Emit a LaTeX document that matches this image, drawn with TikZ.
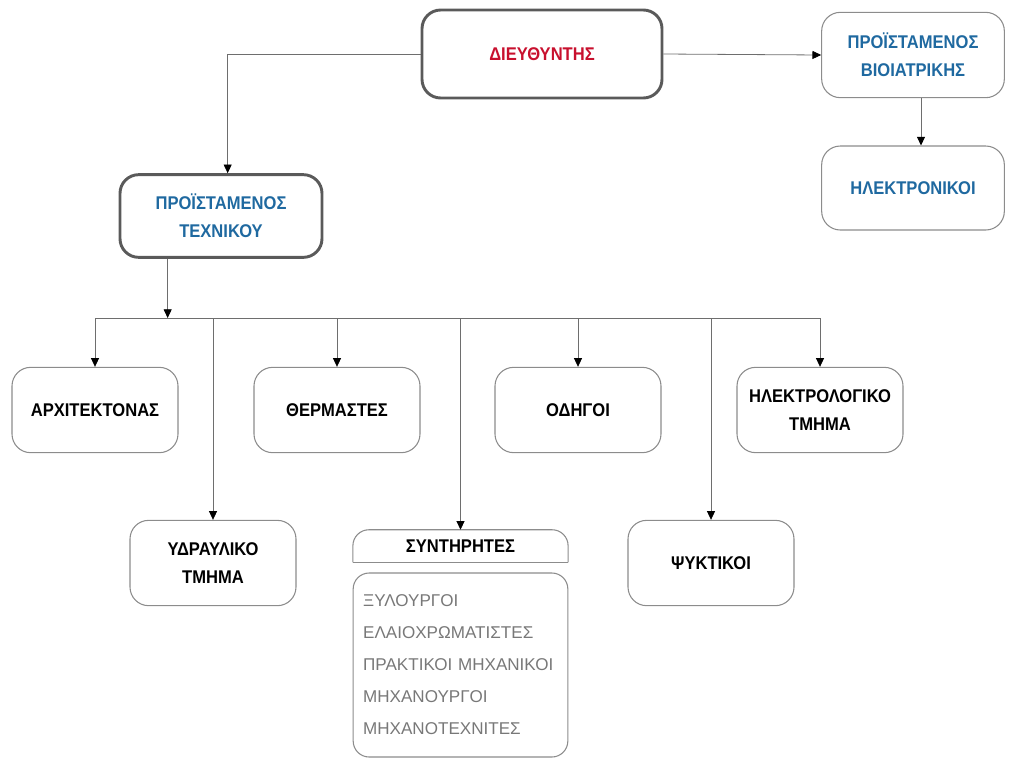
\documentclass[tikz,border=0pt]{standalone}
\usepackage{fontspec}
\setmainfont{Liberation Sans}
\newfontfamily\titlefont{Liberation Sans}[FakeStretch=0.9]
\usetikzlibrary{arrows.meta,positioning}
\definecolor{headred}{RGB}{200,16,46}
\definecolor{headblue}{RGB}{31,105,160}
\definecolor{edgegray}{RGB}{140,140,140}
\definecolor{darkedge}{RGB}{90,90,90}
\definecolor{wiregray}{RGB}{110,110,110}
\definecolor{listgray}{RGB}{120,120,120}

\begin{document}
\begin{tikzpicture}[x=0.75pt, y=-0.75pt,
  every node/.style={align=center, font=\titlefont\bfseries\fontsize{13.8}{21}\selectfont},
  box/.style={draw=edgegray, line width=0.8pt, rounded corners=14pt, minimum width=124.5pt, minimum height=64pt},
  mainbox/.style={box, draw=darkedge, line width=2.2pt},
  wire/.style={draw=wiregray, line width=0.6pt},
  arr/.style={wire, -{Triangle[length=6.5pt, width=6pt, black]}}]
  \useasboundingbox (0,0) rectangle (1009,758);

  % top level
  \node[mainbox, minimum width=180pt, minimum height=66pt, text=headred] (dir) at (542,54) {ΔΙΕΥΘΥΝΤΗΣ};
  \node[box, minimum width=137pt, text=headblue] (bio) at (913,55) {ΠΡΟΪΣΤΑΜΕΝΟΣ\\ΒΙΟΙΑΤΡΙΚΗΣ};
  \node[box, minimum width=137pt, minimum height=63pt, text=headblue] (elec) at (913,188) {ΗΛΕΚΤΡΟΝΙΚΟΙ};
  \node[mainbox, minimum width=151.5pt, minimum height=62pt, text=headblue] (tech) at (221,216) {ΠΡΟΪΣΤΑΜΕΝΟΣ\\ΤΕΧΝΙΚΟΥ};

  % departments
  \node[box] (arch) at (95,410) {ΑΡΧΙΤΕΚΤΟΝΑΣ};
  \node[box] (therm) at (337,410) {ΘΕΡΜΑΣΤΕΣ};
  \node[box] (driv) at (578,410) {ΟΔΗΓΟΙ};
  \node[box] (elct) at (820,410) {ΗΛΕΚΤΡΟΛΟΓΙΚΟ\\ΤΜΗΜΑ};
  \node[box] (plumb) at (213,563) {ΥΔΡΑΥΛΙΚΟ\\ΤΜΗΜΑ};
  \node[box] (cool) at (711,563) {ΨΥΚΤΙΚΟΙ};

  % maintenance list
  \node[minimum width=161pt, minimum height=24pt, inner sep=0pt] (maint) at (460.5,546) {ΣΥΝΤΗΡΗΤΕΣ};
  \draw[edgegray, line width=0.8pt, rounded corners=12pt] (maint.south west) -- (maint.north west) -- (maint.north east) -- (maint.south east);
  \draw[edgegray, line width=0.8pt] (maint.south west) -- (maint.south east);
  \node[box, rounded corners=12pt, minimum width=161pt, minimum height=138pt, inner xsep=7.5pt, text width=146pt, align=left,
        text=listgray, font=\mdseries\fontsize{12.8}{24}\selectfont] (crafts) at (460.5,665)
        {ΞΥΛΟΥΡΓΟΙ\\ΕΛΑΙΟΧΡΩΜΑΤΙΣΤΕΣ\\ΠΡΑΚΤΙΚΟΙ ΜΗΧΑΝΙΚΟΙ\\ΜΗΧΑΝΟΥΡΓΟΙ\\ΜΗΧΑΝΟΤΕΧΝΙΤΕΣ};

  % connectors
  \draw[arr] (dir.west) -| ([xshift=5pt]tech.north);
  \draw[arr] (dir.east) -- (bio.west);
  \draw[arr] ([xshift=6pt]bio.south) -- ([xshift=6pt]bio.south |- elec.north);
  \coordinate (bus) at (0,318);
  \draw[arr] ([xshift=-40pt]tech.south) -- ([xshift=-40pt]tech.south |- bus);
  \draw[wire] (arch.north |- bus) -- (elct.north |- bus);
  \foreach \n in {arch,plumb,therm,maint,driv,cool,elct}
    \draw[arr] (\n.north |- bus) -- (\n.north);
\end{tikzpicture}
\end{document}
